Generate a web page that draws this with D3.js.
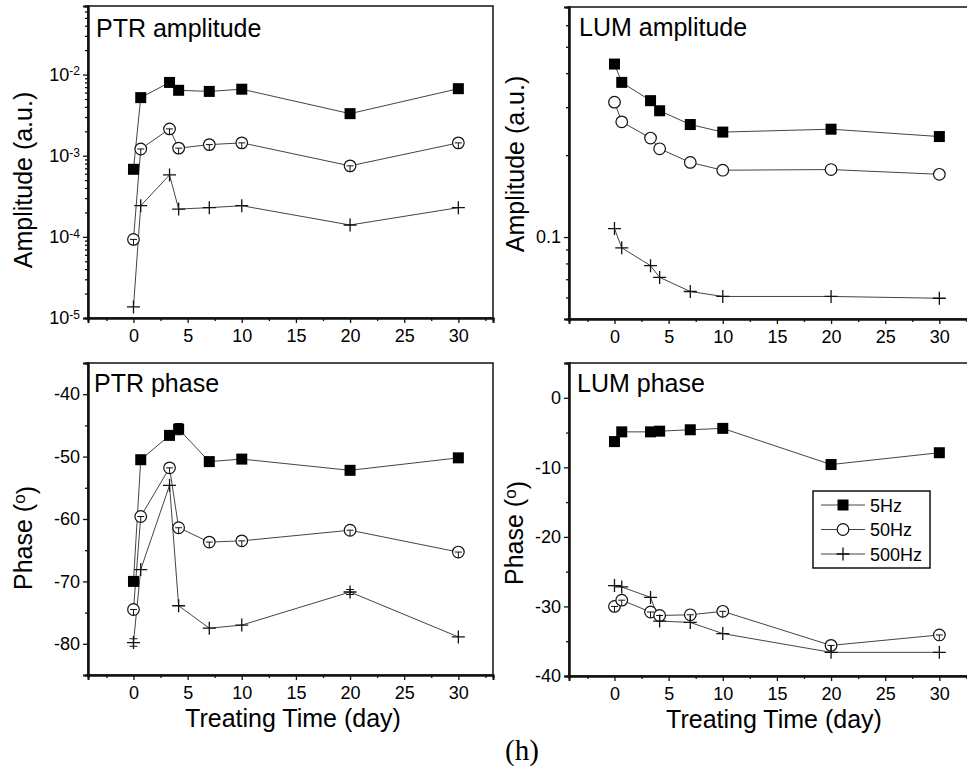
<!DOCTYPE html>
<html>
<head>
<meta charset="utf-8">
<script src="https://d3js.org/d3.v7.min.js"></script>
<style>
  body { margin: 0; background: #fff; }
  svg { display: block; font-family: "Liberation Sans", Arial, sans-serif; }
</style>
</head>
<body>
<div id="chart"></div>
<script>
// treating time of each measurement (day)
const days = [0, 0.67, 3.33, 4.17, 7, 10, 20, 30];
const freqs = ["5Hz", "50Hz", "500Hz"];

// PTR amplitude (a.u.)
const ptrAmp5   = [6.8e-4, 5.2e-3, 8.0e-3, 6.4e-3, 6.2e-3, 6.6e-3, 3.3e-3, 6.7e-3];
const ptrAmp50  = [9.3e-5, 1.21e-3, 2.14e-3, 1.24e-3, 1.37e-3, 1.44e-3, 7.5e-4, 1.44e-3];
const ptrAmp500 = [1.37e-5, 2.42e-4, 5.8e-4, 2.2e-4, 2.29e-4, 2.42e-4, 1.40e-4, 2.29e-4];

// LUM amplitude (a.u.)
const lumAmp5   = [0.432, 0.370, 0.317, 0.291, 0.259, 0.243, 0.249, 0.234];
const lumAmp50  = [0.313, 0.265, 0.231, 0.211, 0.188, 0.176, 0.177, 0.170];
const lumAmp500 = [0.1074, 0.0913, 0.0785, 0.0711, 0.0631, 0.0605, 0.0605, 0.0596];

// PTR phase (deg)
const ptrPhase5   = [-70.0, -50.5, -46.6, -45.6, -50.8, -50.4, -52.2, -50.2];
const ptrPhase50  = [-74.5, -59.6, -51.8, -61.4, -63.7, -63.5, -61.8, -65.3];
const ptrPhase500 = [-79.8, -68.1, -54.6, -73.9, -77.5, -77.0, -71.7, -78.9];
const ptrPhaseErr5   = [0, 0, 0, 0.9, 0, 0, 0, 0];
const ptrPhaseErr500 = [0.6, 0, 0, 0, 0, 0, 0.4, 0];

// LUM phase (deg)
const lumPhase5   = [-6.3, -4.9, -4.9, -4.8, -4.6, -4.4, -9.6, -7.9];
const lumPhase50  = [-30.0, -29.1, -30.8, -31.3, -31.2, -30.7, -35.6, -34.1];
const lumPhase500 = [-27.0, -27.2, -28.7, -32.1, -32.3, -33.9, -36.6, -36.6];

// ticks
const xMajorTicks = [0, 5, 10, 15, 20, 25, 30];
const xMinorTicks = [-2.5, 2.5, 7.5, 12.5, 17.5, 22.5, 27.5, 32.5];
const ptrAmpTicks = [1e-5, 1e-4, 1e-3, 1e-2];
const ptrAmpExps = ["-5", "-4", "-3", "-2"];
const lumAmpTicks = [0.1];
const ptrPhaseTicks = [-80, -70, -60, -50, -40];
const lumPhaseTicks = [-40, -30, -20, -10, 0];

const width = 967, height = 768;
const svg = d3.select("#chart").append("svg")
  .attr("width", width).attr("height", height);

const markers = ["square", "circle", "plus"];

function drawMarker(g, type, x, y, tee) {
  if (type === "square") {
    g.append("rect").attr("x", x - 5.5).attr("y", y - 5.5)
      .attr("width", 11).attr("height", 11).attr("fill", "#000");
  } else if (type === "circle") {
    g.append("circle").attr("cx", x).attr("cy", y).attr("r", 5.8)
      .attr("fill", "#fff").attr("stroke", "#111").attr("stroke-width", 1.2);
    if (tee) {
      g.append("path").attr("d", `M${x - 3.5},${y}H${x + 3.5}M${x},${y}V${y + 5.8}`)
        .attr("stroke", "#111").attr("stroke-width", 1);
    }
  } else {
    g.append("path").attr("d", `M${x - 6.5},${y}H${x + 6.5}M${x},${y - 6.5}V${y + 6.5}`)
      .attr("stroke", "#111").attr("stroke-width", 1.3);
  }
}

function drawPanel(cfg) {
  const g = svg.append("g");
  const x = d3.scaleLinear().domain([-4.2, 33.2]).range([cfg.left, cfg.left + 405]);
  const y = (cfg.log ? d3.scaleLog() : d3.scaleLinear())
    .domain(cfg.yDomain).range([cfg.bottom, cfg.top]);

  // frame
  g.append("rect").attr("x", cfg.left).attr("y", cfg.top)
    .attr("width", 405).attr("height", cfg.bottom - cfg.top)
    .attr("fill", "none").attr("stroke", "#111").attr("stroke-width", 1.5);

  // x axis
  const xMaj = g.append("g").attr("transform", `translate(0,${cfg.bottom})`)
    .call(d3.axisBottom(x).tickValues(xMajorTicks).tickSize(5).tickPadding(6).tickFormat(d => String(d)));
  const xMin = g.append("g").attr("transform", `translate(0,${cfg.bottom})`)
    .call(d3.axisBottom(x).tickValues(xMinorTicks).tickSize(3).tickFormat(""));

  // y axis
  let yMinorVals;
  if (cfg.log) {
    yMinorVals = [];
    const [lo, hi] = cfg.yDomain;
    for (let e = Math.floor(Math.log10(lo)); e <= Math.ceil(Math.log10(hi)); e++) {
      for (let k = 2; k <= 9; k++) {
        const v = k * Math.pow(10, e);
        if (v >= lo * 0.999 && v <= hi * 1.001) yMinorVals.push(v);
      }
    }
  } else {
    yMinorVals = d3.range(cfg.yDomain[0], cfg.yDomain[1] + 0.01, 5)
      .filter(v => !cfg.yTicks.includes(v));
  }
  const yMaj = g.append("g").attr("transform", `translate(${cfg.left},0)`)
    .call(d3.axisLeft(y).tickValues(cfg.yTicks).tickSize(5).tickPadding(3)
      .tickFormat(cfg.exps ? () => "" : (d => cfg.yLabels ? cfg.yLabels[cfg.yTicks.indexOf(d)] : String(d))));
  const yMin = g.append("g").attr("transform", `translate(${cfg.left},0)`)
    .call(d3.axisLeft(y).tickValues(yMinorVals).tickSize(3).tickFormat(""));

  if (cfg.exps) {
    yMaj.selectAll(".tick text").each(function (d, i) {
      const t = d3.select(this);
      t.append("tspan").text("10");
      t.append("tspan").attr("dy", "-0.45em").attr("font-size", "12px").text(cfg.exps[i]);
    });
  }

  [xMaj, xMin, yMaj, yMin].forEach(a => {
    a.select(".domain").attr("stroke-width", 2).attr("stroke", "#111");
    a.selectAll(".tick line").attr("stroke", "#111").attr("stroke-width", 1.3);
    a.selectAll(".tick text").attr("font-size", "18px").attr("fill", "#000")
      .attr("font-family", "Liberation Sans, Arial, sans-serif");
  });

  // series
  const line = d3.line().x(d => x(d[0])).y(d => y(d[1]));
  cfg.series.forEach((vals, si) => {
    const pts = days.map((d, i) => [d, vals[i]]);
    g.append("path").datum(pts).attr("d", line)
      .attr("fill", "none").attr("stroke", "#444").attr("stroke-width", 1);
  });
  // error bars
  if (cfg.errs) {
    cfg.errs.forEach((errs, si) => {
      if (!errs) return;
      errs.forEach((e, i) => {
        if (!e) return;
        const cx = x(days[i]);
        const y1 = y(cfg.series[si][i] + e), y2 = y(cfg.series[si][i] - e);
        g.append("path").attr("d", `M${cx},${y1}V${y2}M${cx - 4},${y1}H${cx + 4}M${cx - 4},${y2}H${cx + 4}`)
          .attr("stroke", "#111").attr("stroke-width", 1.1).attr("fill", "none");
      });
    });
  }
  cfg.series.forEach((vals, si) => {
    vals.forEach((v, i) => drawMarker(g, markers[si], x(days[i]), y(v), cfg.tee));
  });

  // panel title
  g.append("text").attr("x", cfg.titleX).attr("y", cfg.titleY)
    .attr("font-size", "25px").attr("fill", "#000").text(cfg.title);

  // y axis title
  const yt = g.append("text")
    .attr("transform", `translate(${cfg.yTitleX},${cfg.yTitleY}) rotate(-90)`)
    .attr("text-anchor", "middle").attr("font-size", "25px").attr("fill", "#000");
  if (cfg.phase) {
    yt.append("tspan").text("Phase (");
    yt.append("tspan").attr("dy", "-0.4em").attr("font-size", "17px").text("o");
    yt.append("tspan").attr("dy", "0.4em").text(")");
  } else {
    yt.text("Amplitude (a.u.)");
  }

  // x axis title only on bottom panels
  if (cfg.xTitle) {
    g.append("text").attr("x", cfg.left + 205).attr("y", cfg.bottom + 52)
      .attr("text-anchor", "middle").attr("font-size", "25px").attr("fill", "#000")
      .text("Treating Time (day)");
  }
  return { g, x, y };
}

drawPanel({
  left: 88, top: 6, bottom: 318, log: true, yDomain: [1e-5, 0.07],
  yTicks: ptrAmpTicks, exps: ptrAmpExps, series: [ptrAmp5, ptrAmp50, ptrAmp500], tee: true,
  title: "PTR amplitude", titleX: 96, titleY: 37, yTitleX: 32, yTitleY: 180
});
drawPanel({
  left: 569, top: 7, bottom: 319, log: true, yDomain: [0.05, 0.7],
  yTicks: lumAmpTicks, yLabels: ["0.1"], series: [lumAmp5, lumAmp50, lumAmp500], tee: false,
  title: "LUM amplitude", titleX: 579, titleY: 36, yTitleX: 524, yTitleY: 164
});
drawPanel({
  left: 88, top: 363, bottom: 675, log: false, yDomain: [-85, -35],
  yTicks: ptrPhaseTicks, series: [ptrPhase5, ptrPhase50, ptrPhase500],
  errs: [ptrPhaseErr5, null, ptrPhaseErr500], tee: true, phase: true, xTitle: true,
  title: "PTR phase", titleX: 94, titleY: 392, yTitleX: 32, yTitleY: 538
});
const br = drawPanel({
  left: 569, top: 363, bottom: 676, log: false, yDomain: [-40, 5],
  yTicks: lumPhaseTicks, series: [lumPhase5, lumPhase50, lumPhase500], tee: true, phase: true, xTitle: true,
  title: "LUM phase", titleX: 577, titleY: 392, yTitleX: 523, yTitleY: 533
});

// legend
const leg = svg.append("g");
leg.append("rect").attr("x", 813).attr("y", 491).attr("width", 117).attr("height", 77)
  .attr("fill", "#fff").attr("stroke", "#111").attr("stroke-width", 1.5);
freqs.forEach((f, i) => {
  const ly = 505 + i * 24.5;
  leg.append("line").attr("x1", 821).attr("x2", 865).attr("y1", ly).attr("y2", ly)
    .attr("stroke", "#444").attr("stroke-width", 1);
  drawMarker(leg, markers[i], 843, ly, false);
  leg.append("text").attr("x", 870).attr("y", ly + 6.5)
    .attr("font-size", "18px").attr("fill", "#000").text(f);
});

// figure tag
svg.append("text").attr("x", 505).attr("y", 760)
  .attr("font-family", "Liberation Serif, Times New Roman, serif")
  .attr("font-size", "29px").attr("fill", "#000").text("(h)");
</script>
</body>
</html>
